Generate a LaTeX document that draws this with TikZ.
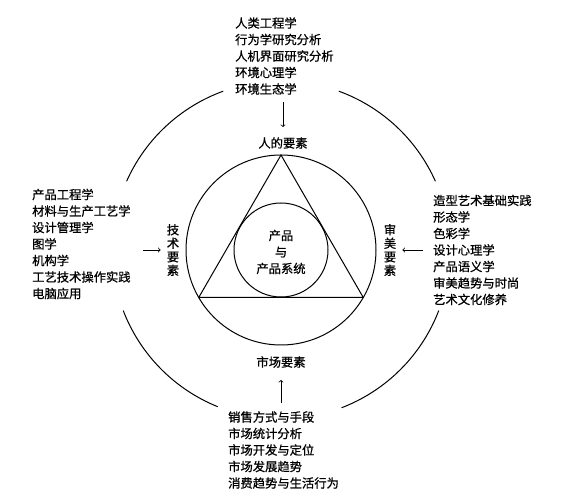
\documentclass[tikz,border=0pt]{standalone}
\usepackage{fontspec}
\newfontfamily\cjk[FakeBold=0.8]{Noto Sans CJK SC}
\usetikzlibrary{calc,positioning}

\begin{document}
\begin{tikzpicture}[x=1pt,y=1pt,
  lst/.style={anchor=west,align=left,inner sep=0pt,font=\cjk\fontsize{12.3}{16.5}\selectfont},
  factor/.style={inner sep=1pt,align=center,font=\cjk\fontsize{12.3}{13.5}\selectfont},
  ring/.style={line width=1pt},
  feed/.style={->,line width=0.8pt}]
\useasboundingbox (0,0) rectangle (566,496);
\coordinate (O) at (281,246);
\draw[ring] (O) circle (95);
\draw[ring] (O) circle (47);
\draw[ring] ($(O)+(90:95)$) -- ($(O)+(210:95)$) -- ($(O)+(330:95)$) -- cycle;
% outer ring, open where the lists stand
\draw[ring] ($(O)+(24:169)$) arc (24:70:169);
\draw[ring] ($(O)+(110:169)$) arc (110:156:169);
\draw[ring] ($(O)+(201:169)$) arc (201:248:169);
\draw[ring] ($(O)+(291:169)$) arc (291:339:169);
\node[factor,font=\cjk\fontsize{12.3}{16.5}\selectfont] (prod) at (281,244) {产品\\与\\产品系统};
\node[factor] (human) at (283,353) {人的要素};
\node[factor] (market) at (281,134) {市场要素};
\node[factor] (tech) at (173,246) {技\\术\\要\\素};
\node[factor] (art) at (390,246) {审\\美\\要\\素};
\node[lst] (humanlst) at (235,440) {人类工程学\\行为学研究分析\\人机界面研究分析\\环境心理学\\环境生态学};
\node[lst] (techlst) at (32,252) {产品工程学\\材料与生产工艺学\\设计管理学\\图学\\机构学\\工艺技术操作实践\\电脑应用};
\node[lst] (artlst) at (433,246) {造型艺术基础实践\\形态学\\色彩学\\设计心理学\\产品语义学\\审美趋势与时尚\\艺术文化修养};
\node[lst] (marketlst) at (228,46) {销售方式与手段\\市场统计分析\\市场开发与定位\\市场发展趋势\\消费趋势与生活行为};
\draw[feed,shorten <=7pt,shorten >=9pt] (humanlst.south -| human) -- (human.north);
\draw[feed,shorten <=8pt,shorten >=11pt] (marketlst.north -| market) -- (market.south);
\draw[feed,shorten <=12pt,shorten >=5pt] (techlst.east |- tech) -- (tech.west);
\draw[feed,shorten <=10pt,shorten >=5pt] (artlst.west |- art) -- (art.east);
\end{tikzpicture}
\end{document}
